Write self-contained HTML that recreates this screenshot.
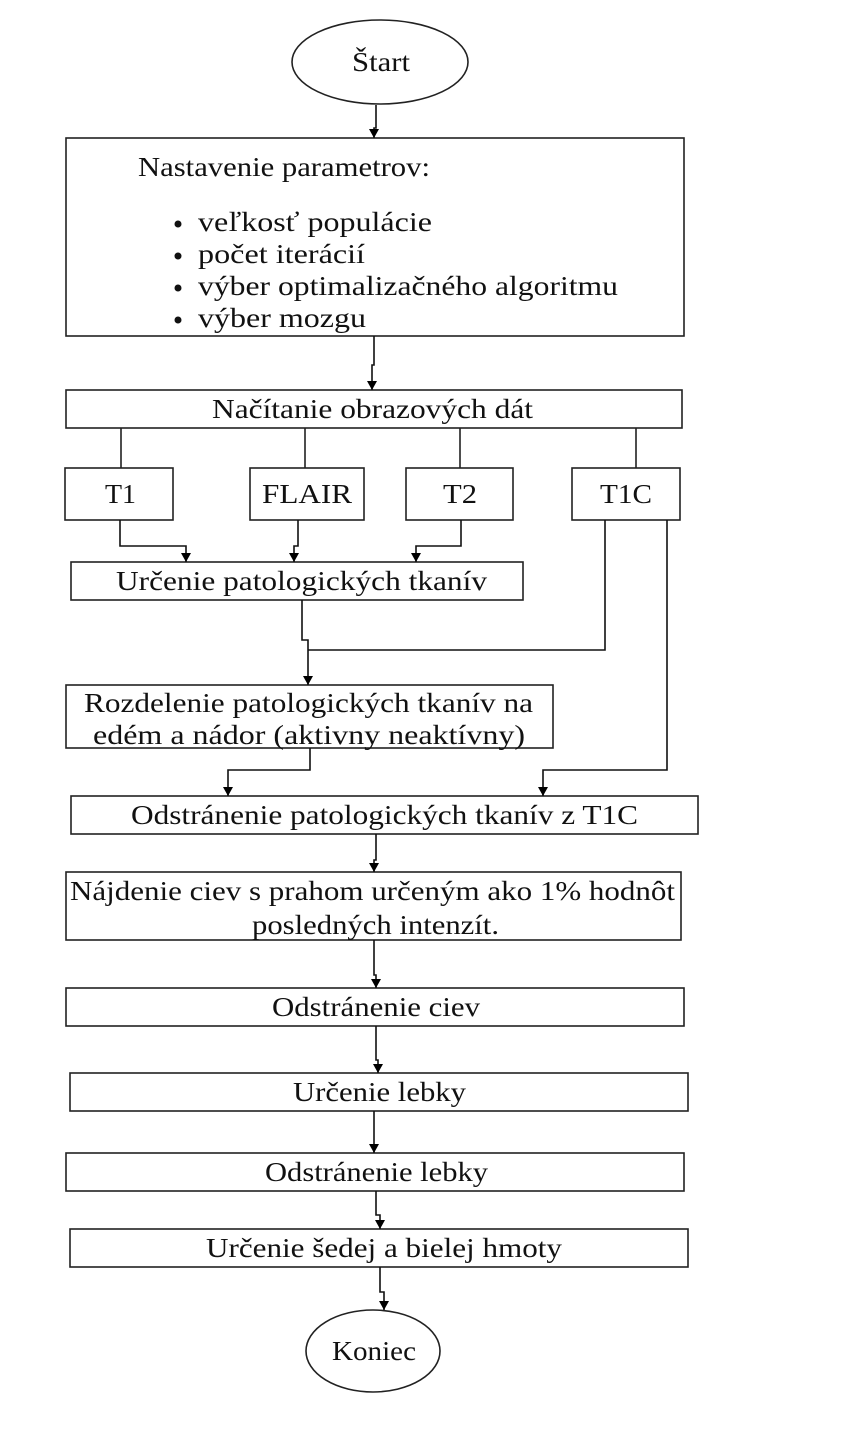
<!DOCTYPE html>
<html><head><meta charset="utf-8"><style>
html,body{margin:0;padding:0;background:#fff;}
svg{display:block;}
text{font-family:"Liberation Serif",serif;font-size:27px;fill:#111;}
</style></head><body>
<svg width="842" height="1436" viewBox="0 0 842 1436" xmlns="http://www.w3.org/2000/svg">
<defs>
<marker id="d" markerWidth="12" markerHeight="12" refX="6" refY="11" markerUnits="userSpaceOnUse"><path d="M1,2 L11,2 L6,11 z" fill="#000"/></marker></defs>
<g fill="none" stroke="#222" stroke-width="1.6">
<ellipse cx="380" cy="62" rx="88" ry="42"/>
<rect x="66" y="138" width="618" height="198"/>
<rect x="66" y="390" width="616" height="38"/>
<rect x="65" y="468" width="108" height="52"/>
<rect x="250" y="468" width="114" height="52"/>
<rect x="406" y="468" width="107" height="52"/>
<rect x="572" y="468" width="108" height="52"/>
<rect x="71" y="562" width="452" height="38"/>
<rect x="66" y="685" width="487" height="63"/>
<rect x="71" y="796" width="627" height="38"/>
<rect x="66" y="872" width="615" height="68"/>
<rect x="66" y="988" width="618" height="38"/>
<rect x="70" y="1073" width="618" height="38"/>
<rect x="66" y="1153" width="618" height="38"/>
<rect x="70" y="1229" width="618" height="38"/>
<ellipse cx="373" cy="1351" rx="67" ry="41"/>
<path d="M121,428V468M305,428V468M460,428V468M636,428V468"/>
</g>
<g fill="none" stroke="#111" stroke-width="1.6" marker-end="url(#d)">
<path d="M376,105V128H374V138"/>
<path d="M374,336V365H372V390"/>
<path d="M120,520V546H186V562"/>
<path d="M298,520V546H294V562"/>
<path d="M461,520V546H416V562"/>
<path d="M302,600V640H308V685"/>
<path d="M310,748V770H228V796"/>
<path d="M667,520V770H543V796"/>
<path d="M376,834V860H374V872"/>
<path d="M374,940V975H376V988"/>
<path d="M376,1026V1060H378V1073"/>
<path d="M374,1111V1153"/>
<path d="M376,1191V1215H380V1229"/>
<path d="M380,1267V1292H384V1310"/>
</g>
<path d="M308,650H605V520" fill="none" stroke="#111" stroke-width="1.6"/>
<text x="352" y="71" textLength="58" lengthAdjust="spacingAndGlyphs">Štart</text>
<text x="138" y="176" textLength="292" lengthAdjust="spacingAndGlyphs">Nastavenie parametrov:</text>
<circle cx="178" cy="224" r="3.5" fill="#111"/><text x="198" y="231" textLength="234" lengthAdjust="spacingAndGlyphs">veľkosť populácie</text>
<circle cx="178" cy="256" r="3.5" fill="#111"/><text x="198" y="263" textLength="167" lengthAdjust="spacingAndGlyphs">počet iterácií</text>
<circle cx="178" cy="288" r="3.5" fill="#111"/><text x="198" y="295" textLength="420" lengthAdjust="spacingAndGlyphs">výber optimalizačného algoritmu</text>
<circle cx="178" cy="320" r="3.5" fill="#111"/><text x="198" y="327" textLength="168" lengthAdjust="spacingAndGlyphs">výber mozgu</text>
<text x="212" y="418" textLength="321" lengthAdjust="spacingAndGlyphs">Načítanie obrazových dát</text>
<text x="105" y="503" textLength="31" lengthAdjust="spacingAndGlyphs">T1</text>
<text x="262" y="503" textLength="90" lengthAdjust="spacingAndGlyphs">FLAIR</text>
<text x="443" y="503" textLength="34" lengthAdjust="spacingAndGlyphs">T2</text>
<text x="600" y="503" textLength="52" lengthAdjust="spacingAndGlyphs">T1C</text>
<text x="116" y="590" textLength="371" lengthAdjust="spacingAndGlyphs">Určenie patologických tkanív</text>
<text x="84" y="712" textLength="449" lengthAdjust="spacingAndGlyphs">Rozdelenie patologických tkanív na</text>
<text x="93" y="744" textLength="432" lengthAdjust="spacingAndGlyphs">edém a nádor (aktivny  neaktívny)</text>
<text x="131" y="824" textLength="507" lengthAdjust="spacingAndGlyphs">Odstránenie patologických tkanív z T1C</text>
<text x="70" y="900" textLength="605" lengthAdjust="spacingAndGlyphs">Nájdenie ciev s prahom určeným ako 1% hodnôt</text>
<text x="252" y="934" textLength="247" lengthAdjust="spacingAndGlyphs">posledných intenzít.</text>
<text x="272" y="1016" textLength="208" lengthAdjust="spacingAndGlyphs">Odstránenie ciev</text>
<text x="293" y="1101" textLength="173" lengthAdjust="spacingAndGlyphs">Určenie lebky</text>
<text x="265" y="1181" textLength="223" lengthAdjust="spacingAndGlyphs">Odstránenie lebky</text>
<text x="206" y="1257" textLength="356" lengthAdjust="spacingAndGlyphs">Určenie šedej a bielej hmoty</text>
<text x="332" y="1360" textLength="84" lengthAdjust="spacingAndGlyphs">Koniec</text>
</svg>
</body></html>
